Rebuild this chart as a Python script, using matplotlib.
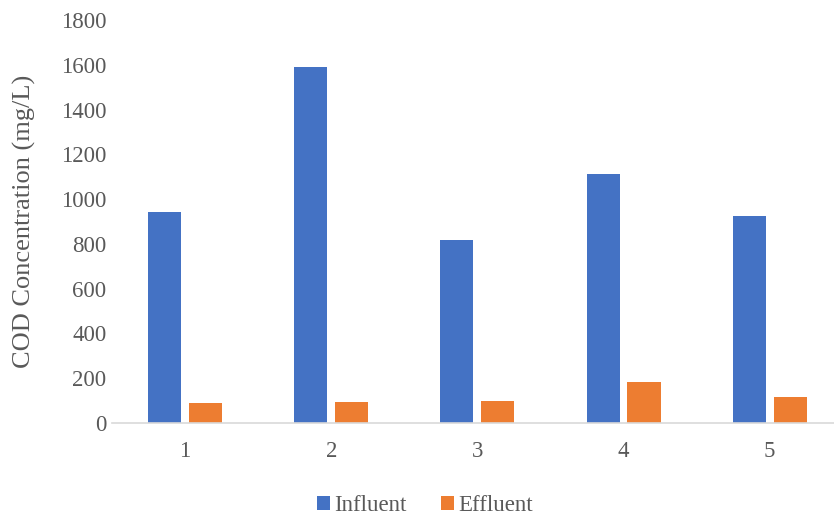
import numpy as np
import matplotlib.pyplot as plt

samples = ['1', '2', '3', '4', '5']
influent = [942, 1590, 818, 1112, 926]
effluent = [91, 95, 98, 184, 117]

plt.rcParams['font.family'] = ['Liberation Serif', 'DejaVu Serif']
text_color = '#595959'

fig = plt.figure(figsize=(8.34, 5.16), dpi=100)
ax = fig.add_axes([0.1343, 0.1802, 0.8657, 0.781])

x = np.arange(len(samples))
w = 0.226
off = 0.14
ax.bar(x - off, influent, w, color='#4472C4', label='Influent')
ax.bar(x + off, effluent, w, color='#ED7D31', label='Effluent')

ax.set_xlim(-0.5, 4.44)
ax.set_ylim(0, 1800)
ax.set_yticks(range(0, 1801, 200))
ax.set_xticks(x)
ax.set_xticklabels(samples)

for s in ['top', 'right', 'left']:
    ax.spines[s].set_visible(False)
ax.spines['bottom'].set_color('#D9D9D9')
ax.spines['bottom'].set_linewidth(1.2)

ax.tick_params(axis='both', length=0, labelsize=16.5, colors=text_color)
ax.tick_params(axis='y', pad=4)
ax.tick_params(axis='x', pad=13)

ax.set_ylabel('COD Concentration (mg/L)', fontsize=19, color=text_color)
ax.yaxis.set_label_coords(-0.105, 0.5)

fig.legend(loc='lower center', bbox_to_anchor=(0.51, -0.04), ncol=2, frameon=False,
           fontsize=16.5, labelcolor=text_color, handlelength=0.55, handleheight=0.55,
           handletextpad=0.2, columnspacing=1.5)

fig.savefig('out.png', dpi=100)
